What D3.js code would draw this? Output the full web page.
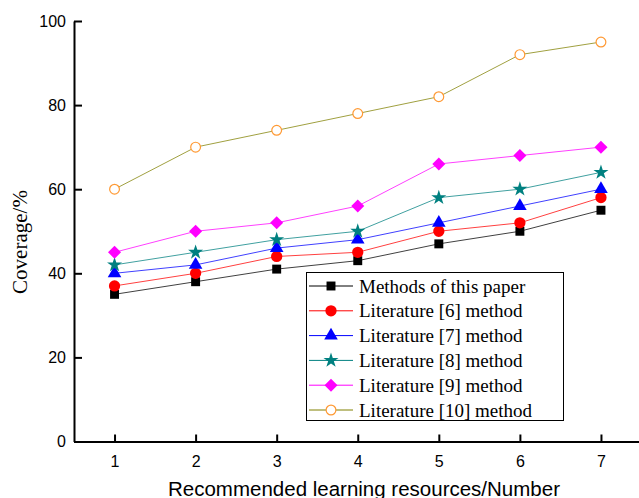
<!DOCTYPE html>
<html>
<head>
<meta charset="utf-8">
<script src="https://cdn.jsdelivr.net/npm/d3@7"></script>
<style>
  body { margin: 0; background: #fff; }
  svg { display: block; }
</style>
</head>
<body>
<svg id="chart" width="639" height="498"></svg>
<script>
// chart values
const resources = [1, 2, 3, 4, 5, 6, 7];
const thisPaper = [35, 38, 41, 43, 47, 50, 55];
const lit6 = [37, 40, 44, 45, 50, 52, 58];
const lit7 = [40, 42, 46, 48, 52, 56, 60];
const lit8 = [42, 45, 48, 50, 58, 60, 64];
const lit9 = [45, 50, 52, 56, 66, 68, 70];
const lit10 = [60, 70, 74, 78, 82, 92, 95];
const seriesNames = ["Methods of this paper", "Literature [6] method", "Literature [7] method",
  "Literature [8] method", "Literature [9] method", "Literature [10] method"];
const yTicks = [0, 20, 40, 60, 80, 100];

const series = [
  {name: seriesNames[0], values: thisPaper, line: "#000", fill: "#000", stroke: "none", sym: d3.symbolSquare, size: 80, rot: 0},
  {name: seriesNames[1], values: lit6, line: "#ff0000", fill: "#ff0000", stroke: "none", sym: d3.symbolCircle, size: 100, rot: 0},
  {name: seriesNames[2], values: lit7, line: "#0000ff", fill: "#0000ff", stroke: "none", sym: d3.symbolTriangle, size: 80, rot: 0},
  {name: seriesNames[3], values: lit8, line: "#008080", fill: "#008080", stroke: "none", sym: d3.symbolStar, size: 70, rot: 0},
  {name: seriesNames[4], values: lit9, line: "#ff00ff", fill: "#ff00ff", stroke: "none", sym: d3.symbolSquare, size: 85, rot: 45},
  {name: seriesNames[5], values: lit10, line: "#808000", fill: "#fff", stroke: "#ff9933", sym: d3.symbolCircle, size: 75, rot: 0}
];

const svg = d3.select("#chart");
const x = d3.scaleLinear().domain([0.5, 7.5]).range([74, 641.5]);
const y = d3.scaleLinear().domain([0, 100]).range([441.5, 21]);

// axes
const xAxis = svg.append("g").attr("transform", `translate(0,${y(0)})`)
  .call(d3.axisBottom(x).tickValues(resources).tickFormat(d3.format("d"))
    .tickSizeInner(-7).tickSizeOuter(0).tickPadding(14));
const yAxis = svg.append("g").attr("transform", `translate(${x(0.5)},0)`)
  .call(d3.axisLeft(y).tickValues(yTicks).tickSizeInner(-8).tickSizeOuter(0).tickPadding(8));
[xAxis, yAxis].forEach(a => {
  a.select(".domain").attr("stroke", "#000").attr("stroke-width", 2);
  a.selectAll(".tick line").attr("stroke", "#000").attr("stroke-width", 2);
  a.selectAll(".tick text").attr("fill", "#000")
    .style("font-family", "Liberation Sans, Arial, sans-serif").style("font-size", "16px");
});
xAxis.selectAll(".tick text").attr("dy", "0.71em");

// axis titles
svg.append("text").attr("x", 364).attr("y", 496).attr("text-anchor", "middle")
  .style("font-family", "Liberation Sans, Arial, sans-serif").style("font-size", "20.5px")
  .text("Recommended learning resources/Number");
svg.append("text").attr("transform", `translate(27,242) rotate(-90)`).attr("text-anchor", "middle")
  .style("font-family", "Liberation Serif, Times New Roman, serif").style("font-size", "21px")
  .text("Coverage/%");

// lines and markers
const line = d3.line().x((d, i) => x(resources[i])).y(d => y(d));
series.forEach(s => {
  svg.append("path").datum(s.values).attr("d", line)
    .attr("fill", "none").attr("stroke", s.line).attr("stroke-width", 1).attr("opacity", 0.75);
  svg.append("g").selectAll("path").data(s.values).join("path")
    .attr("transform", (d, i) => `translate(${x(resources[i])},${y(d)}) rotate(${s.rot})`)
    .attr("d", d3.symbol(s.sym, s.size))
    .attr("fill", s.fill).attr("stroke", s.stroke).attr("stroke-width", 1.2);
});

// legend
const legend = svg.append("g");
legend.append("rect").attr("x", 306.5).attr("y", 272.5).attr("width", 257).attr("height", 148)
  .attr("fill", "#fff").attr("stroke", "#000").attr("stroke-width", 1);
series.forEach((s, i) => {
  const ly = 286 + i * 24.8;
  legend.append("line").attr("x1", 309).attr("x2", 353).attr("y1", ly).attr("y2", ly)
    .attr("stroke", s.line).attr("stroke-width", 1);
  legend.append("path").attr("transform", `translate(331,${ly}) rotate(${s.rot})`)
    .attr("d", d3.symbol(s.sym, s.size)).attr("fill", s.fill).attr("stroke", s.stroke).attr("stroke-width", 1.2);
  legend.append("text").attr("x", 359).attr("y", ly).attr("dy", "0.35em")
    .style("font-family", "Liberation Serif, Times New Roman, serif").style("font-size", "19px")
    .text(s.name);
});
</script>
</body>
</html>
